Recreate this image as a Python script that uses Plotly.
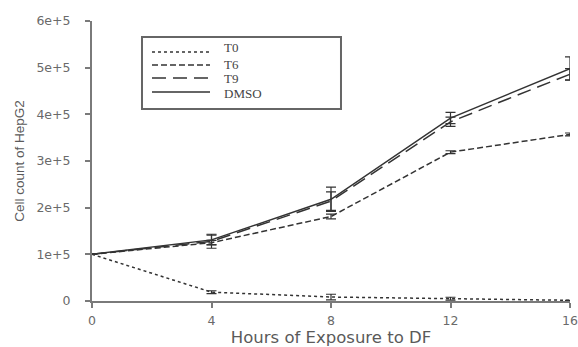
import plotly.graph_objects as go

hours = [0, 4, 8, 12, 16]
t0 = [100000, 19000, 8500, 5000, 1500]
t0_err = [0, 3000, 6000, 3000, 0]
t6 = [100000, 125000, 181000, 319000, 357000]
t6_err = [0, 5000, 5000, 3000, 3000]
t9 = [100000, 128000, 214000, 384000, 486000]
t9_err = [0, 15000, 20000, 10000, 12000]
dmso = [100000, 131000, 218000, 392000, 498000]
dmso_err = [0, 10000, 26000, 12000, 25000]

x_ticks = [0, 4, 8, 12, 16]
y_ticks = [0, 100000, 200000, 300000, 400000, 500000, 600000]
y_labels = ["0", "1e+5", "2e+5", "3e+5", "4e+5", "5e+5", "6e+5"]

names = ["T0", "T6", "T9", "DMSO"]
values = [t0, t6, t9, dmso]
errors = [t0_err, t6_err, t9_err, dmso_err]
dashes = ["dot", "6px,3px", "14px,7px", "solid"]

LINE = "#333333"
AXIS = "#7a7a7a"

fig = go.Figure()
for name, vals, err, dash in zip(names, values, errors, dashes):
    fig.add_trace(go.Scatter(
        x=hours, y=vals, name=name, mode="lines", showlegend=False,
        line=dict(color=LINE, width=1.5, dash=dash),
        error_y=dict(type="data", array=err, visible=True, color=LINE, thickness=1.2, width=5),
    ))

# manual legend (paper coordinates)
box = dict(x0=0.1046, x1=0.5209, y0=0.6857, y1=0.9429)
fig.add_shape(type="rect", xref="paper", yref="paper", **box,
              line=dict(color="#666666", width=2), fillcolor="rgba(0,0,0,0)")
leg_y = [0.8893, 0.8429, 0.7964, 0.7464]
txt_y = [0.9036, 0.8464, 0.7964, 0.7393]
for name, dash, ly, ty in zip(names, dashes, leg_y, txt_y):
    fig.add_shape(type="line", xref="paper", yref="paper", x0=0.1255, x1=0.2469, y0=ly, y1=ly,
                  line=dict(color=LINE, width=1.5, dash=dash))
    fig.add_annotation(xref="paper", yref="paper", x=0.272, y=ty, text=name, showarrow=False,
                       xanchor="left", yanchor="middle",
                       font=dict(family="Liberation Serif, Times New Roman", size=13, color="#444444"))

tickfont = dict(family="DejaVu Sans", size=12.5, color="#6a6a6a")
axis_common = dict(
    showgrid=False, zeroline=False, showline=True, linecolor=AXIS, linewidth=2,
    ticks="outside", tickcolor=AXIS, ticklen=5, tickwidth=2, tickfont=tickfont,
)

fig.update_layout(
    width=578, height=347,
    margin=dict(l=92, r=8, t=21, b=46, autoexpand=False),
    paper_bgcolor="white", plot_bgcolor="white",
    showlegend=False,
    xaxis=dict(range=[0, 16], tickvals=x_ticks, ticklabelstandoff=2,
               title=dict(text="Hours of Exposure to DF", standoff=7,
                          font=dict(family="DejaVu Sans", size=16.5, color="#5a5a5a")),
               **axis_common),
    yaxis=dict(range=[0, 600000], tickvals=y_ticks, ticklabelstandoff=12, ticktext=y_labels,
               title=dict(text="Cell count of HepG2", standoff=9,
                          font=dict(family="Liberation Sans, Arial", size=13.5, color="#5a5a5a")),
               **axis_common),
)

fig.write_html("out.html", config={"displayModeBar": False},
               post_script="document.body.style.margin='0';")
